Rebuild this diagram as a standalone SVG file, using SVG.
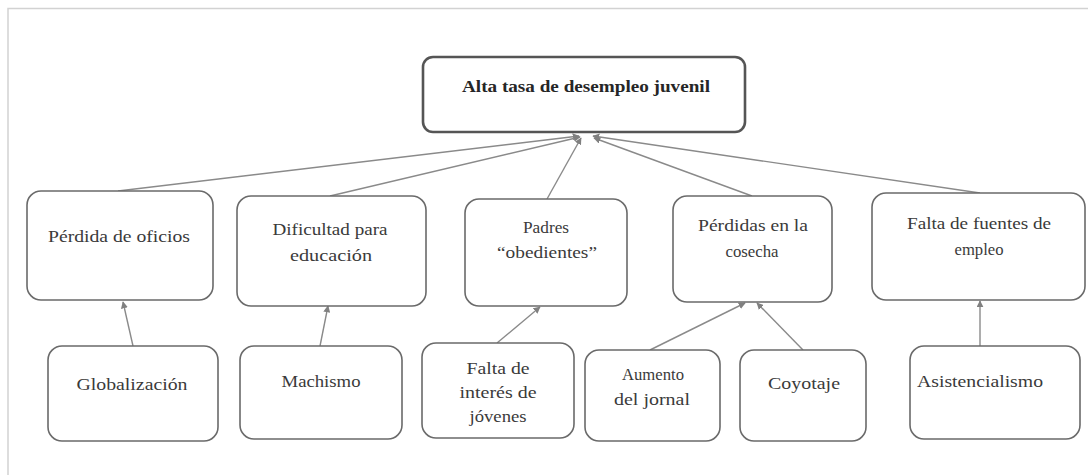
<svg xmlns="http://www.w3.org/2000/svg" width="1088" height="475" viewBox="0 0 1088 475">
<defs>
<marker id="arr" viewBox="0 0 10 10" refX="9" refY="5" markerWidth="7" markerHeight="7" orient="auto" markerUnits="userSpaceOnUse">
<path d="M0,0 L10,5 L0,10 z" fill="#808080"/>
</marker>
<style>
.frame{fill:none;stroke:#d2d2d2;stroke-width:1.5}
.box{fill:#fff;stroke:#6a6a6a;stroke-width:1.6}
.main{fill:#fff;stroke:#555;stroke-width:2.6}
.t{font-family:'Liberation Serif','Times New Roman','DejaVu Serif',serif;font-size:16px;fill:#3a3a3a;text-anchor:middle}
.tb{font-family:'Liberation Serif','Times New Roman','DejaVu Serif',serif;font-size:16px;font-weight:bold;fill:#262626;text-anchor:middle}
.c{fill:none;stroke:#8a8a8a;stroke-width:1.4;marker-end:url(#arr)}
</style>
</defs>
<rect width="1088" height="475" fill="#fff"/>
<path class="frame" d="M8,475 L8,8.5 L1088,8.5"/>
<g id="connectors">
<line class="c" x1="118" y1="191" x2="579" y2="136"/>
<line class="c" x1="330" y1="196" x2="580" y2="137"/>
<line class="c" x1="547" y1="199" x2="581" y2="138"/>
<line class="c" x1="752" y1="196" x2="594" y2="138"/>
<line class="c" x1="980" y1="193" x2="593" y2="136"/>
<line class="c" x1="133" y1="346" x2="123" y2="302"/>
<line class="c" x1="320" y1="346" x2="328" y2="306"/>
<line class="c" x1="497" y1="343" x2="540" y2="307"/>
<line class="c" x1="650" y1="350" x2="745" y2="303"/>
<line class="c" x1="803" y1="350" x2="757" y2="303"/>
<line class="c" x1="980" y1="346" x2="980" y2="301"/>
</g>
<g id="n-top">
<rect class="main" x="423" y="57" width="322" height="75" rx="10"/>
<text class="tb" x="586" y="92" textLength="248" lengthAdjust="spacingAndGlyphs">Alta tasa de desempleo juvenil</text>
</g>
<g id="n-perdida-oficios">
<rect class="box" x="27" y="191" width="186" height="109" rx="14"/>
<text class="t" x="119" y="242" textLength="142" lengthAdjust="spacingAndGlyphs">Pérdida de oficios</text>
</g>
<g id="n-dificultad">
<rect class="box" x="237" y="196" width="189" height="110" rx="14"/>
<text class="t" x="330" y="235" textLength="115" lengthAdjust="spacingAndGlyphs">Dificultad para</text>
<text class="t" x="331" y="261" textLength="82" lengthAdjust="spacingAndGlyphs">educación</text>
</g>
<g id="n-padres">
<rect class="box" x="465" y="199" width="162" height="107" rx="14"/>
<text class="t" x="546" y="233" textLength="46" lengthAdjust="spacingAndGlyphs">Padres</text>
<text class="t" x="547" y="258" textLength="100" lengthAdjust="spacingAndGlyphs">“obedientes”</text>
</g>
<g id="n-perdidas-cosecha">
<rect class="box" x="673" y="196" width="159" height="106" rx="14"/>
<text class="t" x="753" y="231" textLength="110" lengthAdjust="spacingAndGlyphs">Pérdidas en la</text>
<text class="t" x="752" y="257" textLength="53" lengthAdjust="spacingAndGlyphs">cosecha</text>
</g>
<g id="n-falta-fuentes">
<rect class="box" x="872" y="193" width="213" height="107" rx="14"/>
<text class="t" x="979" y="229" textLength="144" lengthAdjust="spacingAndGlyphs">Falta de fuentes de</text>
<text class="t" x="979" y="255" textLength="49" lengthAdjust="spacingAndGlyphs">empleo</text>
</g>
<g id="n-globalizacion">
<rect class="box" x="48" y="346" width="170" height="95" rx="14"/>
<text class="t" x="132" y="390" textLength="111" lengthAdjust="spacingAndGlyphs">Globalización</text>
</g>
<g id="n-machismo">
<rect class="box" x="240" y="346" width="162" height="93" rx="14"/>
<text class="t" x="321" y="387" textLength="79" lengthAdjust="spacingAndGlyphs">Machismo</text>
</g>
<g id="n-falta-interes">
<rect class="box" x="422" y="343" width="152" height="95" rx="14"/>
<text class="t" x="498" y="374" textLength="63" lengthAdjust="spacingAndGlyphs">Falta de</text>
<text class="t" x="498" y="398" textLength="77" lengthAdjust="spacingAndGlyphs">interés de</text>
<text class="t" x="498" y="422" textLength="57" lengthAdjust="spacingAndGlyphs">jóvenes</text>
</g>
<g id="n-aumento">
<rect class="box" x="585" y="350" width="135" height="91" rx="14"/>
<text class="t" x="653" y="380" textLength="62" lengthAdjust="spacingAndGlyphs">Aumento</text>
<text class="t" x="652" y="405" textLength="76" lengthAdjust="spacingAndGlyphs">del jornal</text>
</g>
<g id="n-coyotaje">
<rect class="box" x="740" y="350" width="126" height="91" rx="14"/>
<text class="t" x="804" y="389" textLength="72" lengthAdjust="spacingAndGlyphs">Coyotaje</text>
</g>
<g id="n-asistencialismo">
<rect class="box" x="910" y="346" width="170" height="93" rx="14"/>
<text class="t" x="980" y="387" textLength="126" lengthAdjust="spacingAndGlyphs">Asistencialismo</text>
</g>
</svg>
